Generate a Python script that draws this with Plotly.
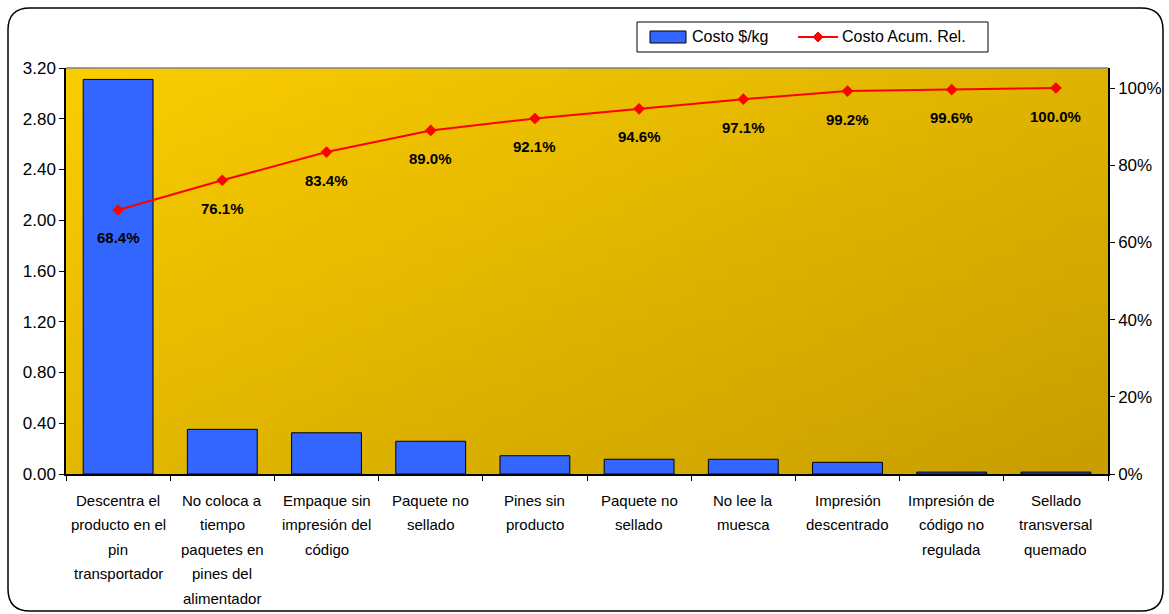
import plotly.graph_objects as go
import base64, zlib, struct

categories = [
    "Descentra el|producto en el|pin|transportador",
    "No coloca a|tiempo|paquetes en|pines del|alimentador",
    "Empaque sin|impresión del|código",
    "Paquete no|sellado",
    "Pines sin|producto",
    "Paquete no|sellado ",
    "No lee la|muesca",
    "Impresión|descentrado",
    "Impresión de|código no|regulada",
    "Sellado|transversal|quemado",
]
costo = [3.11, 0.352, 0.325, 0.258, 0.144, 0.116, 0.116, 0.092, 0.015, 0.015]
acum = [0.684, 0.761, 0.834, 0.890, 0.921, 0.946, 0.971, 0.992, 0.996, 1.000]
acum_labels = ["68.4%", "76.1%", "83.4%", "89.0%", "92.1%", "94.6%", "97.1%", "99.2%", "99.6%", "100.0%"]
y_ticks = [0, 0.4, 0.8, 1.2, 1.6, 2.0, 2.4, 2.8, 3.2]
y2_ticks = [0, 0.2, 0.4, 0.6, 0.8, 1.0]
series_names = ["Costo $/kg", "Costo Acum. Rel."]

# ---- gradient background image (pure python PNG) ----
def make_png(w, h, c0, c1):
    rows = b""
    for j in range(h):
        row = b"\x00"
        for i in range(w):
            t = (i / (w - 1) * 0.55 + j / (h - 1) * 0.45)
            row += bytes(int(round(c0[k] + (c1[k] - c0[k]) * t)) for k in range(3))
        rows += row
    def chunk(tag, data):
        return struct.pack(">I", len(data)) + tag + data + struct.pack(">I", zlib.crc32(tag + data) & 0xffffffff)
    png = b"\x89PNG\r\n\x1a\n"
    png += chunk(b"IHDR", struct.pack(">IIBBBBB", w, h, 8, 2, 0, 0, 0))
    png += chunk(b"IDAT", zlib.compress(rows))
    png += chunk(b"IEND", b"")
    return "data:image/png;base64," + base64.b64encode(png).decode()

bg = make_png(64, 32, (250, 205, 0), (200, 158, 0))

W, H = 1169, 614
ML, MR, MT, MB = 66, 61, 68, 140
PW, PH = W - ML - MR, H - MT - MB

def px2x(px):
    return (px - ML) / PW

def py2y(py):
    return (H - MB - py) / PH

FONT = "Liberation Sans, Arial, sans-serif"

fig = go.Figure()
fig.add_trace(go.Bar(
    x=categories, y=costo, name=series_names[0],
    marker=dict(color="#3366FF", line=dict(color="#000000", width=1)),
    yaxis="y",
))
fig.add_trace(go.Scatter(
    x=categories, y=acum, name=series_names[1], mode="lines+markers",
    line=dict(color="#FF0000", width=2),
    marker=dict(symbol="diamond", size=9, color="#FF0000"),
    yaxis="y2",
))

annotations = []
for c, v, lab in zip(categories, acum, acum_labels):
    annotations.append(dict(
        x=c, y=v, xref="x", yref="y2", text="<b>" + lab + "</b>",
        showarrow=False, yshift=-28, font=dict(size=15, color="#000000", family=FONT),
    ))
# category labels (multi-line, wider line spacing)
for c in categories:
    for k, line in enumerate(c.split("|")):
        annotations.append(dict(
            x=c, y=0, xref="x", yref="paper", text=line.strip(), showarrow=False,
            yanchor="middle", xanchor="center", yshift=-(26 + 24.6 * k),
            font=dict(size=15, color="#000000", family=FONT),
        ))

# legend drawn manually
annotations.append(dict(x=px2x(690), y=py2y(37), xref="paper", yref="paper",
                        text=series_names[0], showarrow=False, xanchor="left", yanchor="middle",
                        font=dict(size=16, color="#000000", family=FONT)))
annotations.append(dict(x=px2x(840), y=py2y(37), xref="paper", yref="paper",
                        text=series_names[1], showarrow=False, xanchor="left", yanchor="middle",
                        font=dict(size=16, color="#000000", family=FONT)))

# rounded outer border
x0, y0, x1, y1, r = 8, 8, 1163, 611, 22
def P(px, py):
    return f"{px2x(px):.5f},{py2y(py):.5f}"
path = (f"M {P(x0 + r, y0)} L {P(x1 - r, y0)} Q {P(x1, y0)} {P(x1, y0 + r)} "
        f"L {P(x1, y1 - r)} Q {P(x1, y1)} {P(x1 - r, y1)} "
        f"L {P(x0 + r, y1)} Q {P(x0, y1)} {P(x0, y1 - r)} "
        f"L {P(x0, y0 + r)} Q {P(x0, y0)} {P(x0 + r, y0)} Z")
diamond = f"M {P(818, 32)} L {P(823, 37)} L {P(818, 42)} L {P(813, 37)} Z"

shapes = [
    dict(type="path", path=path, xref="paper", yref="paper",
         line=dict(color="#000000", width=1.5), layer="below"),
    dict(type="line", xref="paper", yref="paper", x0=0, x1=1, y0=1, y1=1,
         line=dict(color="#808080", width=1.5)),
    # legend box
    dict(type="rect", xref="paper", yref="paper", x0=px2x(637), x1=px2x(988),
         y0=py2y(52), y1=py2y(22), line=dict(color="#000000", width=1), fillcolor="#FFFFFF"),
    dict(type="rect", xref="paper", yref="paper", x0=px2x(650), x1=px2x(686),
         y0=py2y(43), y1=py2y(31), line=dict(color="#000000", width=1), fillcolor="#3366FF"),
    dict(type="line", xref="paper", yref="paper", x0=px2x(798), x1=px2x(838),
         y0=py2y(37), y1=py2y(37), line=dict(color="#FF0000", width=2)),
    dict(type="path", path=diamond, xref="paper", yref="paper",
         line=dict(color="#FF0000", width=1), fillcolor="#FF0000"),
]

fig.update_layout(
    width=W, height=H,
    margin=dict(l=ML, r=MR, t=MT, b=MB, autoexpand=False),
    paper_bgcolor="#FFFFFF", plot_bgcolor="#E0B400",
    font=dict(family=FONT, color="#000000"),
    bargap=0.33,
    showlegend=False,
    images=[dict(source=bg, xref="paper", yref="paper", x=0, y=1, sizex=1, sizey=1,
                 sizing="stretch", layer="below", xanchor="left", yanchor="top")],
    xaxis=dict(
        type="category", showline=True, linecolor="#000000", linewidth=1.5,
        ticks="outside", tickson="boundaries", ticklen=5, tickcolor="#000000",
        showticklabels=False, showgrid=False, range=[-0.5, 9.5], automargin=False,
    ),
    yaxis=dict(
        range=[0, 3.2], tickvals=y_ticks, ticktext=[f"{v:.2f}" for v in y_ticks],
        showline=True, linecolor="#000000", linewidth=1.5, ticks="outside",
        ticklen=5, tickcolor="#000000", tickfont=dict(size=17, color="#000000"),
        showgrid=False, zeroline=False, automargin=False,
    ),
    yaxis2=dict(
        range=[0, (474 - 68) / 386], overlaying="y", side="right",
        tickvals=y2_ticks, ticktext=[f"{int(round(v * 100))}%" for v in y2_ticks],
        showline=True, linecolor="#000000", linewidth=1.5, ticks="outside",
        ticklen=5, tickcolor="#000000", tickfont=dict(size=17, color="#000000"),
        showgrid=False, zeroline=False, automargin=False,
    ),
    annotations=annotations,
    shapes=shapes,
)

fig.write_html("out.html")
